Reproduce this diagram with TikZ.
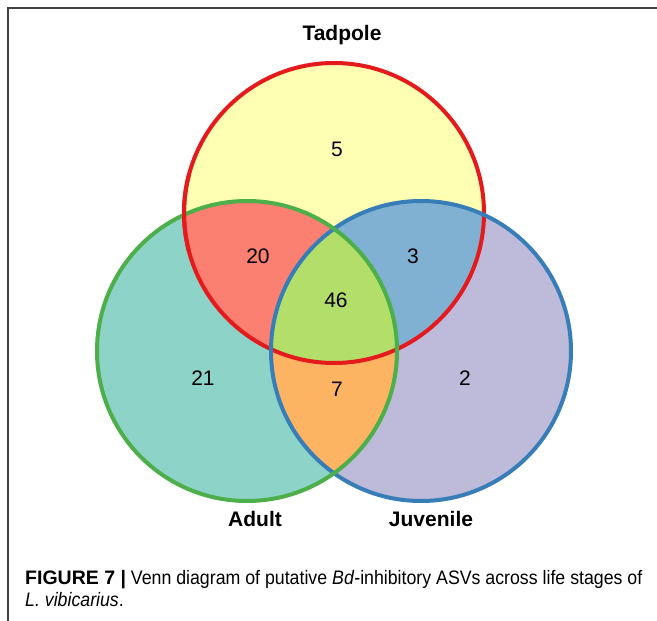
\documentclass[tikz,border=0pt]{standalone}
\usepackage{fontspec}
\setmainfont{Liberation Sans}
\newfontfamily\capfont[FakeStretch=0.91]{Liberation Sans}
\newfontfamily\capbold{Liberation Sans Bold}
\definecolor{cT}{HTML}{FFFFB3}
\definecolor{cA}{HTML}{8DD3C7}
\definecolor{cJ}{HTML}{BEBADA}
\definecolor{cTA}{HTML}{FB8072}
\definecolor{cTJ}{HTML}{80B1D3}
\definecolor{cAJ}{HTML}{FDB462}
\definecolor{cTAJ}{HTML}{B3DE69}
\definecolor{lT}{HTML}{E41A1C}
\definecolor{lA}{HTML}{4DAF4A}
\definecolor{lJ}{HTML}{377EB8}
\tikzset{
  ring/.style={line width=4pt},
  setlabel/.style={font=\fontsize{21}{24}\selectfont\bfseries, inner sep=0pt},
  count/.style={font=\fontsize{21}{24}\selectfont, inner sep=0pt},
  frame/.style={line width=1.4pt, draw=black!75},
  captext/.style={anchor=base west, inner sep=0pt, font=\capfont\fontsize{19.5}{22}\selectfont}
}
\begin{document}
\begin{tikzpicture}[x=1pt,y=-1pt]
\useasboundingbox (0,0) rectangle (657,621);
\coordinate (T) at (334,213);
\coordinate (A) at (247,351);
\coordinate (J) at (421,351);
\def\R{150}
% base fills
\fill[cT] (T) circle (\R);
\fill[cA] (A) circle (\R);
\fill[cJ] (J) circle (\R);
\begin{scope}\clip (T) circle (\R); \fill[cTA] (A) circle (\R); \end{scope}
\begin{scope}\clip (T) circle (\R); \fill[cTJ] (J) circle (\R); \end{scope}
\begin{scope}\clip (A) circle (\R); \fill[cAJ] (J) circle (\R); \end{scope}
\begin{scope}\clip (T) circle (\R); \clip (A) circle (\R); \fill[cTAJ] (J) circle (\R); \end{scope}
% outlines
\draw[ring, lT] (T) circle (\R);
\draw[ring, lJ] (J) circle (\R);
\draw[ring, lA] (A) circle (\R);
\draw[ring, lT] ([shift={(165:\R)}]T) arc[start angle=165, end angle=195, radius=\R];
% set labels
\node[setlabel] (tl) at (342,35) {Tadpole};
\node[setlabel] (al) at (255,519) {Adult};
\node[setlabel] (jl) at (431,519) {Juvenile};
% counts
\node[count] (n5) at (337,149) {5};
\node[count] (n20) at (258,256) {20};
\node[count] (n3) at (413,256) {3};
\node[count] (n46) at (336,300) {46};
\node[count] (n21) at (203,378) {21};
\node[count] (n7) at (337,389) {7};
\node[count] (n2) at (465,378) {2};
% frame
\draw[frame] (8,621) -- (8,8) -- (657,8);
% caption
\node[captext] (cap1) at (25,584)
  {{\capbold FIGURE 7 |} Venn diagram of putative \textit{Bd}-inhibitory ASVs across life stages of};
\node[captext] (cap2) at (25,606)
  {\textit{L. vibicarius}.};
\end{tikzpicture}
\end{document}
